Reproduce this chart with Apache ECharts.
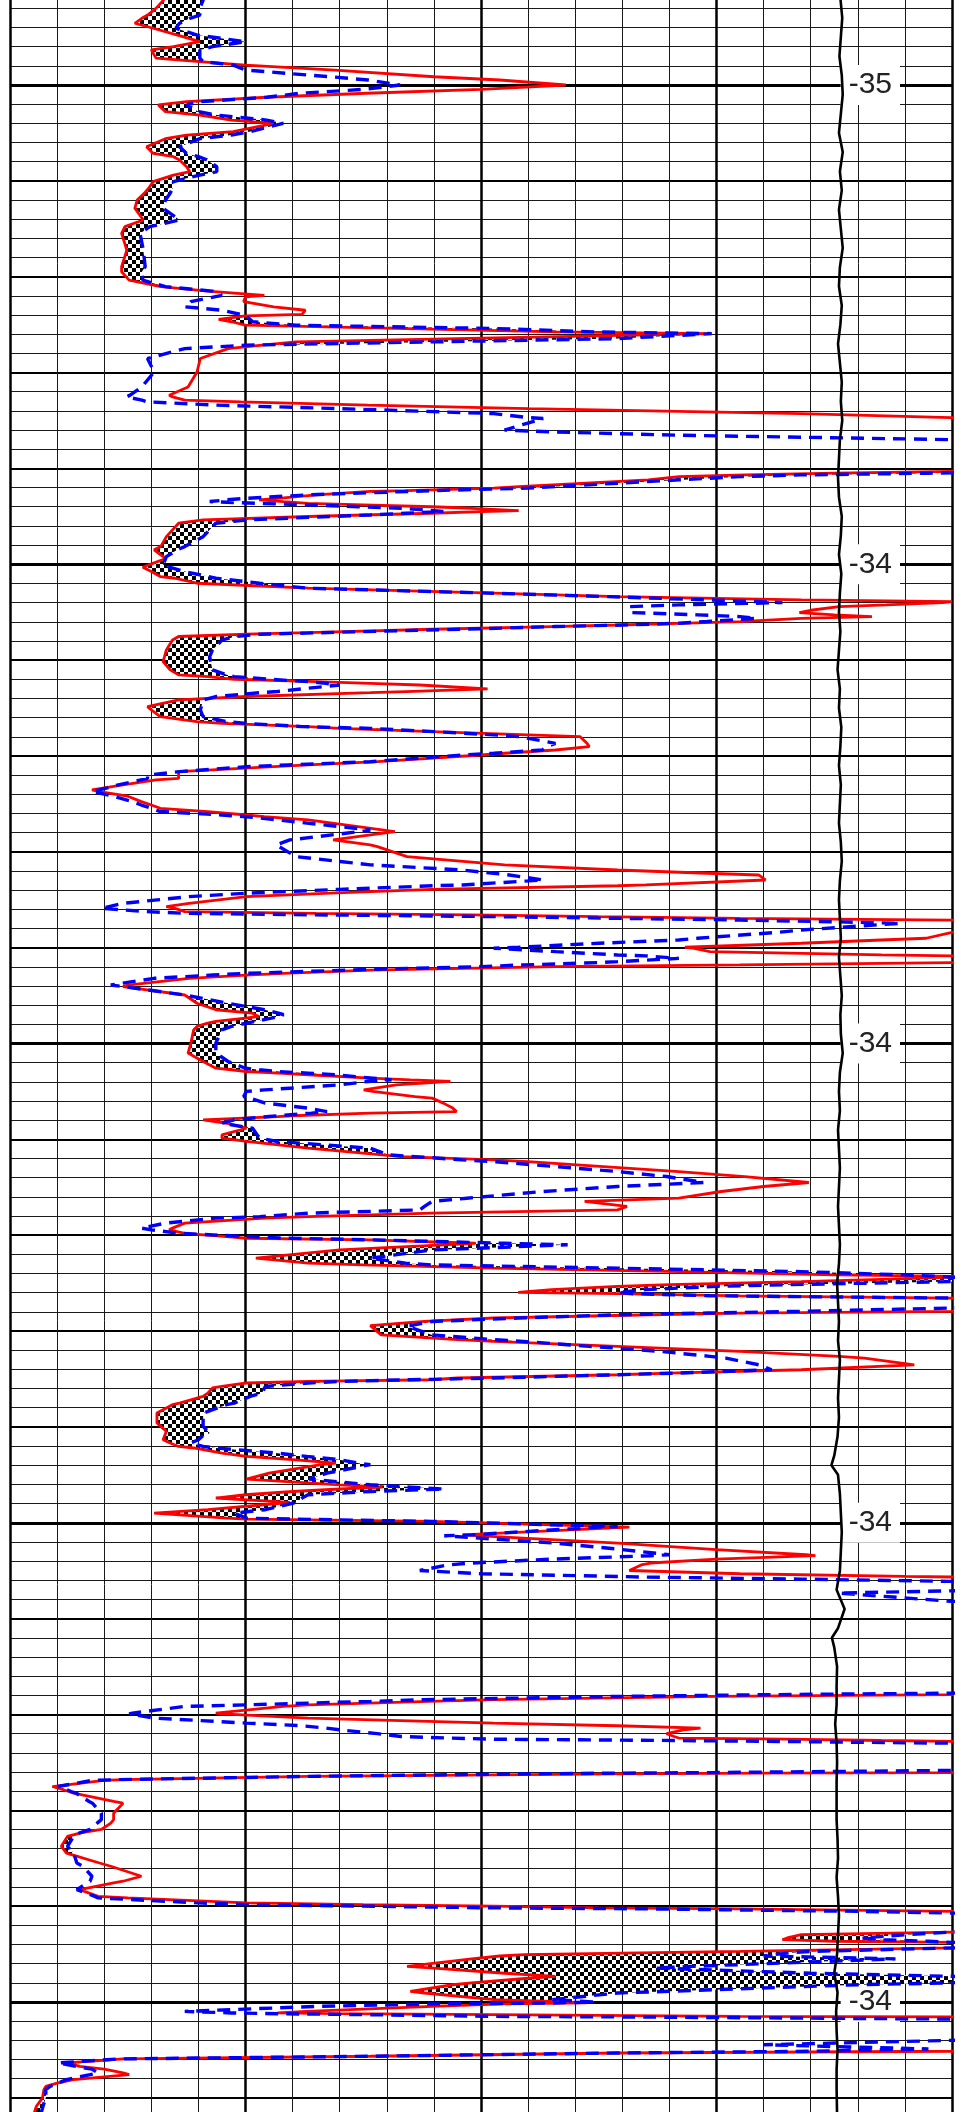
<!DOCTYPE html>
<html><head><meta charset="utf-8">
<script src="https://cdn.jsdelivr.net/npm/echarts@6/dist/echarts.min.js"></script>
<style>html,body{margin:0;padding:0;background:#fff;}#c{width:968px;height:2112px;}</style>
</head><body><div id="c"></div>
<script>
// depth in minor grid divisions (label lines every 25), values in horizontal grid divisions (0..20)
const depth = [
20.20,20.57,21.00,21.35,21.52,21.78,22.04,22.39,22.74,23.00,
23.17,23.60,23.78,23.96,24.22,24.57,24.74,25.00,25.23,25.43,
25.64,25.87,26.04,26.39,26.57,26.83,27.00,27.43,27.61,27.80,
28.22,28.57,28.74,28.91,29.26,29.52,29.70,30.04,30.30,30.65,
31.00,31.43,32.04,32.39,32.74,33.61,34.48,34.74,35.18,35.52,
35.75,35.97,36.05,36.30,36.57,36.75,36.97,37.04,37.23,37.35,
37.53,37.70,37.88,37.97,38.23,38.40,38.57,38.75,39.27,39.97,
40.75,41.18,41.27,41.44,41.53,41.70,41.88,42.14,42.35,42.40,
42.70,43.00,43.10,43.27,43.50,43.70,45.08,45.15,45.25,45.34,
45.43,45.60,45.95,46.03,46.16,46.20,46.38,46.56,46.64,46.73,
46.82,46.90,47.00,47.08,47.20,47.25,47.34,47.43,47.51,47.69,
47.86,48.56,49.08,49.25,49.60,49.69,50.03,50.16,50.38,50.64,
50.73,50.99,51.25,51.51,51.69,51.86,51.95,52.00,52.12,52.21,
52.40,52.52,52.64,52.73,52.82,52.99,53.08,53.17,53.25,53.39,
53.57,53.65,53.77,53.95,54.47,54.82,55.08,55.51,55.77,55.86,
56.00,56.12,56.21,56.30,56.50,56.64,56.70,56.90,57.08,57.43,
57.60,57.95,58.21,58.30,58.47,58.56,58.73,58.90,58.99,59.34,
59.51,59.69,59.86,59.95,60.30,60.47,60.56,60.82,61.00,61.17,
61.25,61.51,61.77,61.86,62.10,62.38,62.56,62.73,62.90,63.08,
63.17,63.34,63.86,63.95,64.38,64.64,64.73,65.25,65.68,65.95,
66.12,66.21,66.47,66.73,66.77,66.96,67.16,67.34,67.69,67.86,
67.95,68.12,68.21,68.30,68.38,68.47,68.56,68.65,68.73,69.08,
69.20,69.51,69.60,69.77,69.98,70.03,70.21,70.38,70.43,70.56,
70.73,70.78,70.90,70.99,71.13,71.17,71.34,71.43,71.60,71.95,
72.03,72.47,72.90,73.24,73.42,73.50,73.59,73.68,73.85,73.94,
74.11,74.29,74.98,75.50,75.94,76.29,76.37,76.46,76.55,76.63,
76.81,76.90,76.98,77.16,77.42,77.50,77.77,77.85,78.11,78.37,
78.55,78.63,78.77,78.81,78.98,79.16,79.42,79.77,79.94,80.11,
80.46,80.81,80.90,81.07,81.16,81.68,81.94,82.25,82.46,82.72,
83.07,83.24,83.50,83.68,83.85,84.03,84.11,84.37,84.63,84.72,
84.90,85.07,85.16,85.24,85.42,85.50,85.77,86.20,86.46,86.55,
86.72,86.90,87.07,87.16,87.30,87.42,87.58,87.67,87.84,87.98,
88.05,88.16,88.28,88.40,88.80,88.97,89.06,89.15,89.32,89.50,
89.72,89.75,90.20,90.24,90.45,90.54,90.80,90.89,91.06,91.32,
91.41,91.76,92.02,92.19,92.28,92.45,92.54,92.63,92.71,92.89,
92.97,93.24,93.41,93.76,93.84,94.28,94.80,94.97,95.23,95.32,
95.67,95.84,96.02,96.10,96.37,96.54,96.71,96.89,96.97,97.41,
97.72,98.02,98.14,98.24,98.37,98.54,98.71,98.94,98.97,99.32,
99.50,99.76,99.81,99.93,100.20,100.23,100.63,100.68,101.06,101.40,
101.67,101.72,101.90,102.10,102.20,102.49,102.66,102.80,102.83,102.94,
103.06,103.20,103.55,103.67,104.10,104.25,108.80,108.89,108.97,109.06,
109.23,109.32,109.50,109.58,109.93,109.97,110.19,110.45,110.59,110.71,
110.80,111.00,111.15,111.23,111.29,111.36,111.40,111.50,111.60,112.90,
112.92,113.03,113.06,113.10,113.23,113.40,113.44,113.76,114.02,114.10,
114.54,114.63,115.15,115.49,115.67,116.00,116.18,116.36,116.88,117.23,
117.31,117.75,117.92,118.44,118.70,118.79,119.14,119.49,119.57,119.83,
119.92,120.00,120.09,120.14,120.27,120.36,120.50,121.25,121.35,121.49,
121.66,121.75,121.83,121.89,122.00,122.10,122.18,122.36,122.45,122.53,
122.60,122.75,123.14,123.23,123.50,123.66,123.80,124.00,124.10,124.44,
124.53,124.88,125.00,125.05,125.10,125.23,125.49,125.57,125.61,125.66,
125.75,125.78,125.89,126.00,126.90,127.00,127.23,127.45,127.57,127.66,
127.83,127.97,128.18,128.36,128.50,128.70,128.79,129.05,129.23,129.40,
129.57,130.00,130.44,130.90
];
const red = [
3.30,3.26,3.10,2.92,2.80,2.65,3.04,3.54,4.03,3.47,
3.00,3.10,4.03,5.00,6.90,9.00,10.40,11.80,10.00,7.57,
5.45,3.75,3.15,3.30,4.03,4.70,5.60,4.74,3.75,3.30,
2.90,3.04,3.47,3.60,3.75,3.82,3.47,3.04,2.97,2.85,
2.70,2.65,2.83,2.44,2.37,2.48,2.37,2.37,2.53,3.20,
4.20,5.40,5.00,4.96,5.60,6.27,6.20,5.00,4.43,4.70,
5.00,8.17,11.60,14.86,9.50,6.07,5.35,4.63,4.04,3.97,
3.78,3.38,3.45,3.71,4.90,7.60,11.00,16.80,19.97,21.00,
24,24,24,24,24,24,24,20.30,17.50,15.60,
14.20,13.55,10.80,10.27,8.40,7.65,6.50,5.70,5.29,5.80,
6.33,7.50,8.96,9.80,10.80,10.00,8.96,7.50,6.33,4.10,
3.58,3.32,3.20,3.06,3.25,3.32,2.95,2.82,3.00,3.19,
3.50,3.97,6.33,10.27,12.90,16.80,20.00,19.80,18.60,17.60,
17.00,16.76,17.50,18.30,16.80,15.50,14.20,12.90,11.50,8.96,
6.33,5.02,3.58,3.45,3.32,3.28,3.25,3.40,3.58,4.20,
4.76,6.50,7.65,8.70,10.14,8.40,7.65,5.02,3.58,2.92,
3.00,3.19,3.97,4.50,6.33,7.00,8.96,11.00,12.10,12.25,
12.30,11.58,10.50,10.00,7.80,6.33,5.60,3.58,3.58,3.58,
3.10,2.40,1.74,1.90,2.50,2.79,3.00,3.19,4.20,5.02,
5.40,6.33,7.90,8.17,6.86,7.65,7.80,8.43,10.50,12.90,
14.80,15.90,16.04,13.50,12.90,8.96,6.80,5.02,3.80,3.32,
3.50,3.71,6.50,10.27,12.50,15.50,20.00,24,24,24,
20.00,19.45,18.50,16.80,14.33,14.50,14.86,18.50,20.00,24,
24,20.00,15.50,11.58,8.50,7.65,5.80,5.02,3.80,2.50,
2.40,3.71,3.97,4.37,5.15,5.20,5.29,5.00,4.37,4.20,
3.97,3.90,3.84,3.78,4.10,4.37,4.70,5.02,5.70,6.33,
7.65,8.50,9.35,8.20,7.51,7.70,8.60,8.96,9.20,9.40,
9.48,7.65,6.00,5.68,4.10,4.60,5.02,4.50,4.50,5.02,
6.33,7.90,8.30,10.27,11.00,14.20,15.60,16.96,16.00,15.10,
14.20,12.20,13.10,12.90,8.96,6.33,5.40,3.71,3.45,3.38,
3.71,4.60,5.02,7.65,9.88,9.20,7.00,5.22,6.33,7.50,
10.27,14.20,17.50,20.50,18.50,16.80,14.00,12.90,11.50,10.79,
12.90,15.50,20.00,24,24,20.00,15.50,13.60,10.27,8.80,
7.65,7.67,7.88,7.91,9.50,10.27,12.90,13.80,15.50,17.60,
18.14,19.20,16.80,14.00,12.90,9.50,8.96,6.33,5.02,4.50,
4.30,4.20,4.10,3.60,3.45,3.12,3.12,3.20,3.32,3.30,
3.25,3.40,3.58,3.90,4.50,5.02,6.00,6.92,6.60,5.50,
5.02,7.00,7.91,7.00,6.00,5.00,4.37,5.94,5.80,4.20,
3.06,4.60,5.02,8.96,12.80,13.15,9.61,10.00,12.90,15.00,
16.90,17.10,15.00,13.60,13.40,13.15,15.50,19.00,20.00,24,
24,24,24,24,24,24,24,22.00,20.00,15.00,
10.27,8.90,6.33,5.80,4.37,4.50,6.33,10.27,12.90,14.66,
14.30,13.94,14.10,14.20,16.50,18.50,20.00,24,24,24,
24,20.00,16.00,12.90,6.33,2.40,2.00,0.90,1.25,1.35,
2.20,2.40,2.20,2.20,2.14,1.94,1.50,1.22,1.09,1.20,
1.22,1.90,2.14,2.79,2.40,2.20,1.48,1.87,2.50,5.02,
7.50,10.27,12.50,15.50,20.00,24,24,24,20.00,16.80,
16.50,16.40,17.50,20.00,24,24,20.00,15.50,13.00,10.92,
10.40,9.80,8.43,9.00,10.50,11.58,10.80,9.80,9.40,8.50,
8.80,10.27,11.80,12.24,10.50,8.96,6.30,5.68,7.00,10.27,
15.50,20.00,24,24,24,24,24,24,20.00,12.90,
7.65,2.40,1.22,1.48,2.00,2.40,2.53,1.35,1.00,0.76,
0.72,0.69,0.56,0.50
];
const blue = [
4.12,4.10,4.03,4.03,3.82,3.60,3.52,3.96,5.00,4.30,
4.03,4.03,4.10,4.74,5.00,6.80,7.60,8.28,7.50,6.16,
5.45,4.03,3.75,4.00,4.39,5.45,5.80,5.10,4.70,4.03,
3.60,3.75,4.00,4.18,4.39,4.39,4.03,3.47,3.47,3.40,
3.30,3.25,3.60,2.97,2.76,2.83,2.87,2.80,2.82,3.30,
4.30,4.50,4.50,3.84,3.71,4.50,4.90,5.00,5.10,5.15,
6.07,10.27,12.40,14.90,12.90,8.96,5.02,3.71,2.92,3.06,
2.80,2.55,2.47,2.80,2.92,4.37,6.99,10.27,11.00,11.32,
10.90,10.50,11.58,14.20,19.97,23.00,24,22.00,19.50,16.80,
15.50,14.20,11.58,11.00,8.96,8.50,6.33,5.02,4.60,4.24,
5.20,6.33,7.40,8.30,9.00,9.20,8.40,7.65,6.80,5.02,
4.37,4.10,3.71,3.55,3.32,3.30,3.25,3.40,3.71,4.20,
4.37,5.30,6.33,10.27,12.70,14.80,15.90,16.40,14.20,13.15,
13.20,13.20,14.60,15.50,15.84,14.80,14.20,13.00,11.58,9.60,
6.60,5.30,4.80,4.50,4.30,4.24,4.26,4.30,4.60,4.76,
5.50,6.33,6.70,7.00,6.20,5.68,5.30,4.37,4.10,4.06,
4.04,4.10,4.60,5.02,6.20,7.65,9.00,10.27,10.80,11.58,
11.40,11.30,10.27,9.60,7.65,5.90,5.02,3.60,2.92,2.92,
2.92,2.30,1.90,1.74,2.20,2.60,2.79,3.00,3.19,4.50,
5.02,5.70,7.65,7.40,5.94,5.65,5.61,6.07,7.65,9.60,
10.27,10.60,11.32,9.61,9.00,7.00,5.02,3.80,2.40,2.10,
1.94,2.90,3.71,7.00,10.27,12.90,15.50,17.50,18.90,16.80,
16.30,14.60,14.20,12.50,10.80,10.27,11.60,12.90,13.50,14.20,
12.90,12.50,10.90,10.00,7.65,7.20,5.02,4.30,3.06,2.14,
2.40,3.71,4.63,5.40,5.70,5.81,5.70,5.55,5.20,5.02,
4.70,4.50,4.37,4.37,4.63,5.00,5.29,5.70,6.33,6.90,
7.70,8.10,7.60,7.00,5.40,5.02,4.96,5.10,5.42,6.33,
6.73,6.40,5.68,5.50,4.76,4.50,5.15,5.25,5.30,5.68,
7.65,8.04,8.60,9.60,10.27,12.90,13.94,14.73,12.90,11.32,
9.70,8.96,8.80,8.70,6.33,5.30,4.37,3.30,2.79,3.00,
3.58,5.02,5.90,7.65,10.50,11.84,8.96,7.65,8.40,8.96,
12.90,16.80,19.00,19.80,21.00,20.00,16.50,15.00,13.50,12.90,
13.20,14.86,20.00,24,20.00,16.80,14.80,12.90,10.80,8.96,
8.50,8.43,8.96,9.00,10.27,10.90,12.30,12.90,13.80,14.86,
15.20,15.90,16.17,14.20,12.90,10.27,8.50,7.00,6.33,5.42,
5.40,5.35,5.10,4.76,4.60,4.10,4.10,4.10,4.20,4.24,
4.00,3.84,4.10,4.37,5.68,6.30,6.99,7.40,7.65,6.73,
6.35,7.65,8.50,9.22,7.65,6.33,6.20,6.07,6.05,5.42,
4.76,5.02,6.00,8.96,12.90,12.50,9.80,9.22,11.58,13.00,
14.00,13.60,11.50,9.80,9.30,8.70,10.00,12.90,13.40,16.80,
20.00,24,20.00,17.60,20.00,24,24,20.00,16.00,12.90,
8.80,7.65,5.02,3.71,2.60,2.53,3.06,5.02,6.20,6.70,
6.99,7.80,8.30,9.30,10.27,14.20,16.00,20.00,24,24,
20.00,15.00,12.90,11.00,6.33,2.30,1.74,1.02,1.30,1.40,
1.68,1.75,1.94,1.94,1.85,1.70,1.48,1.35,1.22,1.35,
1.38,1.42,1.55,1.74,1.70,1.68,1.42,1.80,1.87,4.00,
5.02,7.50,10.27,13.50,18.00,20.00,24,24,20.00,19.00,
18.10,18.50,19.50,20.00,24,24,20.00,17.00,16.50,16.20,
16.00,18.80,14.50,13.70,17.00,20.00,21.00,20.00,18.00,14.00,
12.90,11.50,12.40,11.50,8.96,6.50,3.71,4.70,5.68,7.50,
10.27,13.00,20.00,24,24,20.00,16.00,19.50,17.00,12.90,
7.65,2.30,1.02,1.40,1.74,1.87,1.70,1.20,1.02,0.85,
0.76,0.76,0.70,0.65
];
const blackDepth = [
20.2,21.5,22.5,23.5,24.5,25.5,26.5,27.5,28.5,29.5,30.5,31.5,32.5,33.5,34.5,35.5,36.5,37.5,38.5,39.5,
40.5,41.5,42.5,43.5,44.5,45.5,46.5,47.5,48.5,49.5,50.5,51.5,52.5,53.5,54.5,55.5,56.5,57.5,58.5,59.5,
60.5,61.5,62.5,63.5,64.5,65.5,66.5,67.5,68.5,69.5,70.5,71.5,72.5,73.5,74.5,75.5,76.5,77.5,78.5,79.5,
80.5,81.5,82.5,83.5,84.5,85.5,86.5,87.5,88.5,89.5,90.5,91.5,92.5,93.5,94.5,95.5,96.5,97.0,97.5,98.5,
99.5,100.5,101.5,102.5,103.5,104.5,105.5,106.0,106.5,107.5,108.5,109.5,110.5,111.5,112.5,113.5,114.5,115.5,116.5,117.5,
118.5,119.5,120.5,121.5,122.5,123.5,124.5,125.5,126.5,127.5,128.5,129.5,130.9
];
const black = [
17.62,17.67,17.64,17.61,17.66,17.68,17.64,17.60,17.68,17.62,17.66,17.60,17.64,17.68,17.62,17.60,17.66,17.63,17.58,17.62,
17.66,17.64,17.67,17.62,17.60,17.58,17.60,17.66,17.64,17.60,17.65,17.62,17.60,17.63,17.60,17.57,17.62,17.60,17.65,17.63,
17.60,17.64,17.62,17.60,17.64,17.66,17.62,17.60,17.62,17.64,17.60,17.63,17.66,17.63,17.64,17.68,17.62,17.60,17.62,17.58,
17.60,17.62,17.60,17.58,17.60,17.62,17.60,17.56,17.58,17.60,17.58,17.62,17.60,17.58,17.60,17.57,17.50,17.44,17.58,17.62,
17.64,17.66,17.64,17.62,17.55,17.72,17.58,17.45,17.50,17.56,17.55,17.55,17.52,17.55,17.56,17.55,17.55,17.55,17.57,17.58,
17.55,17.58,17.60,17.58,17.56,17.50,17.57,17.54,17.55,17.57,17.55,17.55,17.56
];
const tickDepths = [25, 50, 75, 100, 125];
const tickLabels = ['-35', '-34', '-34', '-34', '-34'];

// checkerboard pattern for the crossover shading
const pat = document.createElement('canvas');
pat.width = 8; pat.height = 8;
const pg = pat.getContext('2d');
pg.fillStyle = '#ffffff'; pg.fillRect(0, 0, 8, 8);
pg.fillStyle = '#000000'; pg.fillRect(0, 0, 4, 4); pg.fillRect(4, 4, 4, 4);

const redData = depth.map((d, i) => [red[i], d]);
const blueData = depth.map((d, i) => [blue[i], d]);
const blackData = blackDepth.map((d, i) => [black[i], d]);

const hidden = { axisLine: { show: false }, axisTick: { show: false }, axisLabel: { show: false } };
const chart = echarts.init(document.getElementById('c'), null, { renderer: 'canvas' });
chart.setOption({
  animation: false,
  backgroundColor: '#ffffff',
  grid: { left: 10, right: 16, top: -394.25, bottom: -369.25, containLabel: false, outerBoundsMode: 'none' },
  xAxis: [
    Object.assign({ type: 'value', min: 0, max: 20, interval: 1, splitLine: { show: true, lineStyle: { color: '#1a1a1a', width: 1 } } }, hidden),
    Object.assign({ type: 'value', min: 0, max: 20, interval: 5, splitLine: { show: true, lineStyle: { color: '#000', width: 2.5 } } }, hidden)
  ],
  yAxis: [
    Object.assign({ type: 'value', inverse: true, min: 0, max: 150, interval: 1, splitLine: { show: true, lineStyle: { color: '#1a1a1a', width: 1 } } }, hidden),
    Object.assign({ type: 'value', inverse: true, min: 0, max: 150, interval: 5, splitLine: { show: true, lineStyle: { color: '#000', width: 2 } } }, hidden),
    {
      type: 'value', inverse: true, min: 0, max: 150, interval: 25, position: 'right', z: 1,
      axisLine: { show: false }, axisTick: { show: false },
      splitLine: { show: true, lineStyle: { color: '#000', width: 3 } },
      axisLabel: {
        show: true, inside: true, margin: 52,
        fontFamily: '"Liberation Sans Narrow", "Arial Narrow", "Liberation Sans", sans-serif',
        fontSize: 30, color: '#222', backgroundColor: '#fff', padding: [5, 8],
        formatter: function (v) { const i = tickDepths.indexOf(v); return i >= 0 ? tickLabels[i] : ''; }
      }
    }
  ],
  series: [
    {
      type: 'custom', coordinateSystem: 'cartesian2d', xAxisIndex: 0, yAxisIndex: 0, clip: true, silent: true, z: 2,
      data: [[0, 0]],
      renderItem: function (params, api) {
        const pts = [];
        for (let i = 0; i < depth.length; i++) pts.push(api.coord([red[i], depth[i]]));
        for (let i = depth.length - 1; i >= 0; i--) pts.push(api.coord([Math.max(red[i], blue[i]), depth[i]]));
        return { type: 'polygon', shape: { points: pts }, style: { fill: { image: pat, repeat: 'repeat' }, stroke: null, lineWidth: 0 } };
      }
    },
    { type: 'line', xAxisIndex: 0, yAxisIndex: 0, data: redData, symbol: 'none', silent: true, z: 3,
      lineStyle: { color: '#ff0000', width: 2.8 } },
    { type: 'line', xAxisIndex: 0, yAxisIndex: 0, data: blueData, symbol: 'none', silent: true, z: 4,
      lineStyle: { color: '#0000ff', width: 3.4, type: [13, 8] } },
    { type: 'line', xAxisIndex: 0, yAxisIndex: 0, data: blackData, symbol: 'none', silent: true, z: 5,
      lineStyle: { color: '#000000', width: 2.6 } }
  ]
});
</script>
</body></html>
